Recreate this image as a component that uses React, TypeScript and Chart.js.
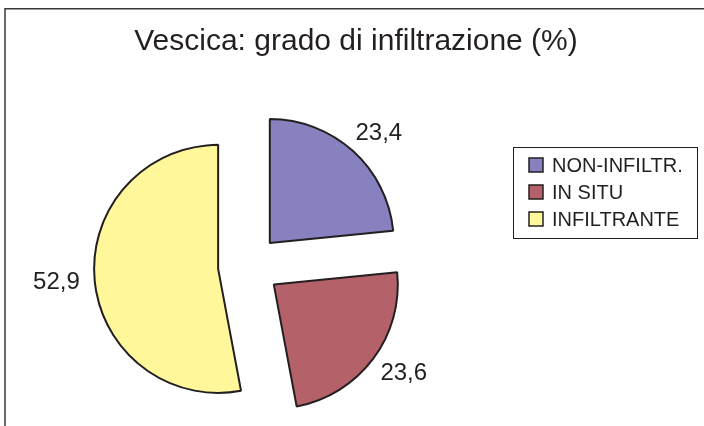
import React, { useEffect, useRef } from "react";
import { Chart, registerables } from "chart.js";

Chart.register(...registerables);

const TITLE = "Vescica: grado di infiltrazione (%)";
const categories = ["NON-INFILTR.", "IN SITU", "INFILTRANTE"];
const values = [23.4, 23.6, 52.9];
const colors = ["#8782BF", "#B5616A", "#FFF799"];

const FONT = '"Liberation Sans", Arial, Helvetica, sans-serif';
const EXPLODE = 31; // px each slice is pulled out
const RADIUS = 124;
const EDGE = "#231F20";

const fmt = (v: number) => v.toFixed(1).replace(".", ",");

// Pull every slice outward along its bisector (Excel-style exploded pie).
const explodePlugin = {
  id: "explode",
  afterDatasetsUpdate(chart: any) {
    const meta = chart.getDatasetMeta(0);
    meta.data.forEach((arc: any) => {
      const mid = (arc.startAngle + arc.endAngle) / 2;
      arc.x += Math.cos(mid) * EXPLODE;
      arc.y += Math.sin(mid) * EXPLODE;
    });
  },
};

const decorPlugin = {
  id: "decor",
  afterDatasetsDraw(chart: any) {
    const ctx: CanvasRenderingContext2D = chart.ctx;
    const meta = chart.getDatasetMeta(0);
    ctx.save();
    // value labels
    ctx.font = `24px ${FONT}`;
    ctx.fillStyle = "#231F20";
    ctx.textAlign = "center";
    ctx.textBaseline = "middle";
    meta.data.forEach((arc: any, i: number) => {
      const mid = (arc.startAngle + arc.endAngle) / 2;
      const ux = Math.cos(mid);
      const uy = Math.sin(mid);
      const text = fmt(values[i]);
      const w = ctx.measureText(text).width;
      const h = 18;
      const d = arc.outerRadius + 15;
      const cx = arc.x + ux * d + (w / 2) * ux;
      const cy = arc.y + uy * d + (h / 2) * uy;
      ctx.fillText(text, cx, cy);
    });

    // title
    ctx.font = `30px ${FONT}`;
    ctx.textAlign = "center";
    ctx.textBaseline = "alphabetic";
    ctx.fillText(TITLE, 356, 50);

    // legend
    ctx.strokeStyle = EDGE;
    ctx.lineWidth = 1;
    ctx.strokeRect(513.5, 147.5, 184, 91);
    ctx.font = `20px ${FONT}`;
    ctx.textAlign = "left";
    categories.forEach((c, i) => {
      const top = 158 + i * 27;
      ctx.fillStyle = colors[i];
      ctx.fillRect(529, top, 14, 14);
      ctx.lineWidth = 1.5;
      ctx.strokeStyle = EDGE;
      ctx.strokeRect(529, top, 14, 14);
      ctx.fillStyle = "#231F20";
      ctx.fillText(c, 552, top + 14);
    });

    // outer frame
    ctx.strokeStyle = "#3a3a3a";
    ctx.lineWidth = 1.5;
    ctx.beginPath();
    ctx.moveTo(5, 426);
    ctx.lineTo(5, 8.75);
    ctx.lineTo(704, 8.75);
    ctx.stroke();
    ctx.restore();
  },
};

export default function App() {
  const ref = useRef<HTMLCanvasElement>(null);
  useEffect(() => {
    if (!ref.current) return;
    const chart = new Chart(ref.current, {
      type: "pie",
      data: {
        labels: categories,
        datasets: [
          {
            data: values,
            backgroundColor: colors,
            borderColor: EDGE,
            borderWidth: 2,
            offset: 0,
            hoverOffset: 0,
            radius: RADIUS,
          } as any,
        ],
      },
      options: {
        responsive: false,
        animation: false,
        devicePixelRatio: 1,
        events: [],
        layout: { padding: { left: 100, right: 306, top: 117, bottom: 11 } },
        plugins: {
          legend: { display: false },
          title: { display: false },
          tooltip: { enabled: false },
        },
      } as any,
      plugins: [explodePlugin, decorPlugin],
    });
    return () => chart.destroy();
  }, []);
  return (
    <div style={{ position: "absolute", left: 0, top: 0, width: 704, height: 426, background: "#fff" }}>
      <canvas ref={ref} width={704} height={426} />
    </div>
  );
}
